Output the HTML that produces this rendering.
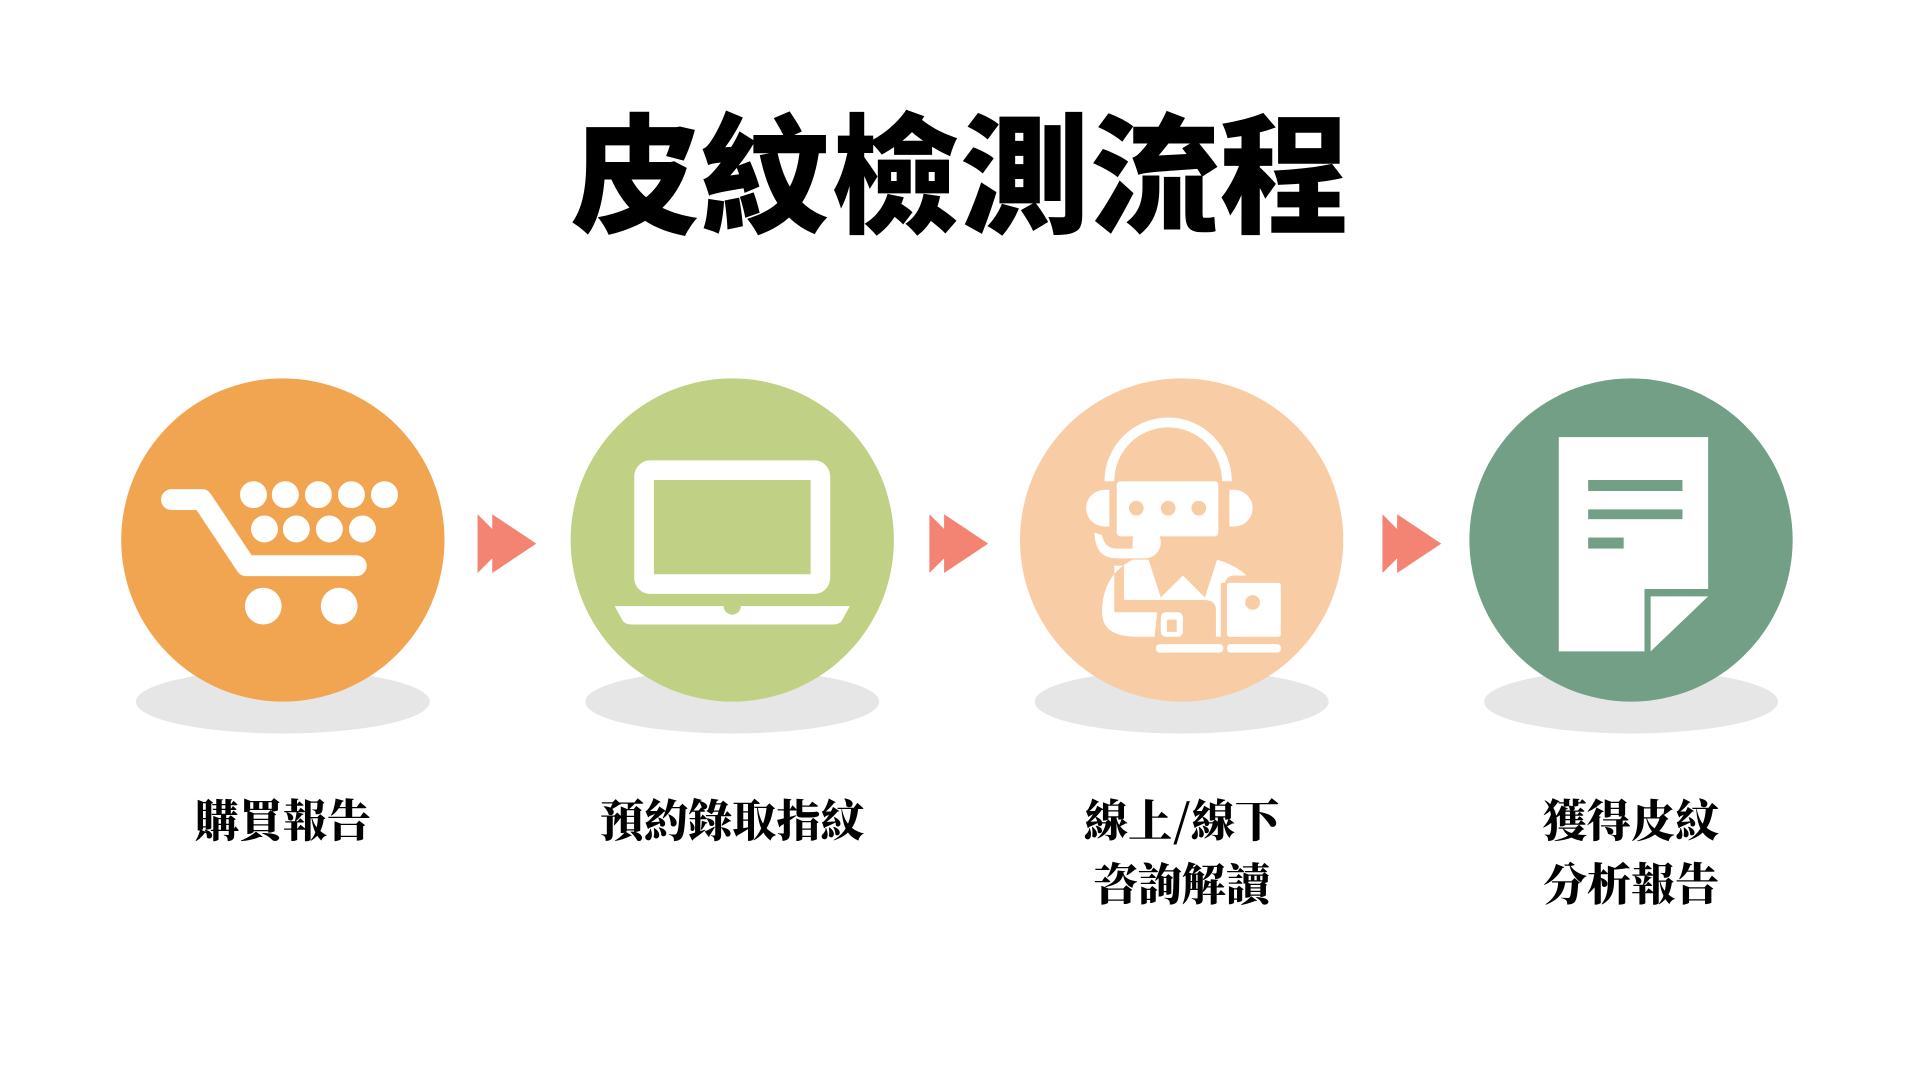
<!DOCTYPE html>
<html><head><meta charset="utf-8"><style>
html,body{margin:0;padding:0;background:#fff;width:1920px;height:1080px;overflow:hidden}
svg{display:block}
</style></head><body>
<svg width="1920" height="1080" viewBox="0 0 1568 882" xmlns="http://www.w3.org/2000/svg">
<text x="784" y="182" text-anchor="middle" font-family="'Noto Sans CJK TC','Noto Sans CJK SC',sans-serif" font-weight="900" font-size="106" fill="#000">皮紋檢測流程</text>

<g fill="#e6e6e6">
<ellipse cx="231" cy="573" rx="120" ry="26"/>
<ellipse cx="598" cy="573" rx="120" ry="26"/>
<ellipse cx="965" cy="573" rx="120" ry="26"/>
<ellipse cx="1332" cy="573" rx="120" ry="26"/>
</g>
<circle cx="231" cy="441" r="132" fill="#f2a550"/>
<circle cx="598" cy="441" r="132" fill="#c0d084"/>
<circle cx="965" cy="441" r="132" fill="#f8cca5"/>
<circle cx="1332" cy="441" r="132" fill="#729f85"/>

<g fill="#f38373">
<polygon points="390,420 414,444 390,468"/><polygon points="402,420 438,444 402,468"/>
<polygon points="759,420 783,444 759,468"/><polygon points="771,420 807,444 771,468"/>
<polygon points="1129,420 1153,444 1129,468"/><polygon points="1141,420 1177,444 1141,468"/>
</g>

<!-- cart -->
<g fill="#fff">
<path d="M140,408 L165,408 L201,462 L291,462" fill="none" stroke="#fff" stroke-width="17" stroke-linecap="round" stroke-linejoin="round"/>
<circle cx="215" cy="495" r="15"/><circle cx="277" cy="495" r="15"/>
<circle cx="207" cy="404" r="11"/><circle cx="233" cy="404" r="11"/><circle cx="260" cy="404" r="11"/><circle cx="287" cy="404" r="11"/><circle cx="314" cy="404" r="11"/>
<circle cx="216" cy="432" r="11"/><circle cx="242" cy="432" r="11"/><circle cx="269" cy="432" r="11"/><circle cx="296" cy="432" r="11"/>
</g>

<!-- laptop -->
<rect x="526" y="384" width="144" height="93" rx="5" fill="none" stroke="#fff" stroke-width="16"/>
<path d="M502,495 L694,495 L688,506 Q686,510 680,510 L516,510 Q510,510 508,506 Z" fill="#fff"/>
<circle cx="598" cy="495" r="7" fill="#c0d084"/>

<!-- support person -->
<g fill="#fff">
<path d="M902,393 A52,52 0 0 1 1006,393 L998,393 A44,44 0 0 0 910,393 Z"/>
<rect x="912" y="393" width="83" height="45" rx="3"/>
<path d="M906,400 L906,430 L902,430 A15,15 0 0 1 902,400 Z"/>
<path d="M1004,400 L1004,430 L1008,430 A15,15 0 0 0 1008,400 Z"/>
<path d="M894,435 Q894,456 912,456 L935,456 A13,13 0 0 0 935,430 Q925,430 925,442 L925,448 L912,448 Q902,448 900,437 Z"/>
<path d="M900,500 Q900,470 925,457 L938,457 L948,488 L966,470 L984,488 L994,457 Q1010,462 1018,470 L1008,470 Q1000,470 1000,480 L1000,520 L993,520 L993,498 Q993,490 983,490 L918,490 L918,462 L910,462 L910,500 L945,500 L943,520 L928,520 Q900,520 900,500 Z"/>
<rect x="1002" y="476" width="44" height="44" rx="2"/>
<rect x="1005" y="476" width="6" height="44" fill="#fff"/>
<rect x="944" y="526" width="55" height="7" rx="3"/>
<rect x="1002" y="526" width="44" height="7" rx="3"/>
<rect x="948" y="500" width="18" height="20" rx="4"/>
</g>
<g fill="#f8cca5">
<circle cx="928" cy="415" r="6"/><circle cx="954" cy="415" r="6"/><circle cx="979" cy="415" r="6"/>
<circle cx="1023" cy="492" r="6"/>
<rect x="997" y="476" width="4" height="46"/>
<rect x="953" y="506" width="8" height="10"/>
</g>

<!-- document -->
<path d="M1273,357 L1395,357 L1395,481 L1343,481 L1343,532 L1273,532 Z" fill="#fff"/>
<polygon points="1348,487 1395,487 1348,532" fill="#fff"/>
<g fill="#729f85">
<rect x="1297" y="392" width="77" height="9"/>
<rect x="1297" y="416" width="77" height="8"/>
<rect x="1297" y="439" width="29" height="9"/>
</g>

<g font-family="'Noto Serif CJK TC','Noto Serif CJK SC',serif" font-weight="900" font-size="36" fill="#000" text-anchor="middle">
<text x="231" y="683">購買報告</text>
<text x="598" y="683">預約錄取指紋</text>
<text x="965" y="683">線上/線下</text>
<text x="965" y="735">咨詢解讀</text>
<text x="1332" y="683">獲得皮紋</text>
<text x="1332" y="735">分析報告</text>
</g>
</svg>
</body></html>
